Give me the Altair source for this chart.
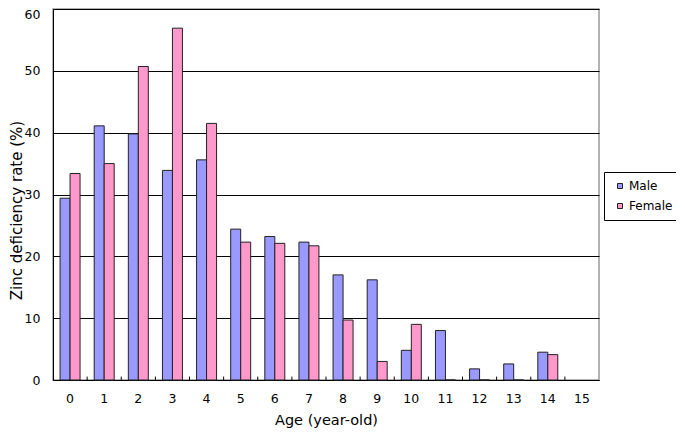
import altair as alt
import pandas as pd

ages = [str(i) for i in range(16)]
male = [29.4, 41.1, 39.8, 33.9, 35.6, 24.4, 23.2, 22.3, 17.0, 16.2, 4.8, 8.0, 1.8, 2.6, 4.5, None]
female = [33.4, 35.0, 50.7, 56.9, 41.5, 22.3, 22.1, 21.7, 9.7, 3.0, 9.0, 0.0, 0.0, 0.0, 4.1, None]
series = ["Male", "Female"]
colors = ["#9999FF", "#FF99CC"]
y_ticks = [0, 10, 20, 30, 40, 50, 60]
boundaries = list(range(1, 16))

rows = []
for a, m, f in zip(ages, male, female):
    if m is not None:
        rows.append({"age": a, "sex": "Male", "rate": m})
    if f is not None:
        rows.append({"age": a, "sex": "Female", "rate": f})
df = pd.DataFrame(rows)

FONT = "DejaVu Sans"

bars = alt.Chart(df).mark_bar(stroke="#222222", strokeWidth=1).encode(
    x=alt.X("age:O", sort=ages,
            scale=alt.Scale(domain=ages, paddingInner=0.414, paddingOuter=0.207),
            axis=alt.Axis(title="Age (year-old)", labelAngle=0, ticks=False,
                          domainColor="black", labelPadding=12,
                          titleY=33, titleBaseline="top", grid=False)),
    xOffset=alt.XOffset("sex:N", sort=series, scale=alt.Scale(domain=series)),
    y=alt.Y("rate:Q", scale=alt.Scale(domain=[0, 60], nice=False),
            axis=alt.Axis(title="Zinc deficiency rate (%)", values=y_ticks,
                          ticks=False, labelPadding=13, domainColor="black",
                          grid=True, gridColor="black", gridOpacity=1,
                          labelOffset=alt.condition("datum.value == 60", alt.value(5.5), alt.value(0)),
                          titleX=-32, titleY=201, titleBaseline="alphabetic",
                          titleFontSize=15)),
    color=alt.Color("sex:N", sort=series,
                    scale=alt.Scale(domain=series, range=colors),
                    legend=alt.Legend(title=None, orient="none", legendX=551, legendY=163,
                                      strokeColor="black", fillColor="white", padding=8,
                                      symbolType="square", symbolSize=25, symbolOffset=2,
                                      symbolStrokeColor="#222222", symbolStrokeWidth=1,
                                      labelFontSize=12, labelFont=FONT, rowPadding=8,
                                      labelOffset=3, labelColor="black")),
)

tick_df = pd.DataFrame({"b": boundaries})
ticks = alt.Chart(tick_df).mark_rule(color="black", strokeWidth=1).encode(
    x=alt.X("b:Q", scale=alt.Scale(domain=[0, 16], nice=False, zero=False), axis=None),
    y=alt.datum(0),
    y2=alt.datum(0.55),
)

chart = alt.layer(bars, ticks).resolve_scale(x="independent").properties(
    width=546, height=371,
    autosize=alt.AutoSizeParams(type="none"),
    padding={"left": 45, "top": 1, "right": 77, "bottom": 49},
).configure_view(stroke="#999999", strokeWidth=1.5).configure_axis(
    labelFont=FONT, titleFont=FONT, labelFontSize=12.5, titleFontSize=14.5,
    titleFontWeight="normal", labelColor="black", titleColor="black",
)

chart.save("out.html", embed_options={"renderer": "svg", "actions": False})
